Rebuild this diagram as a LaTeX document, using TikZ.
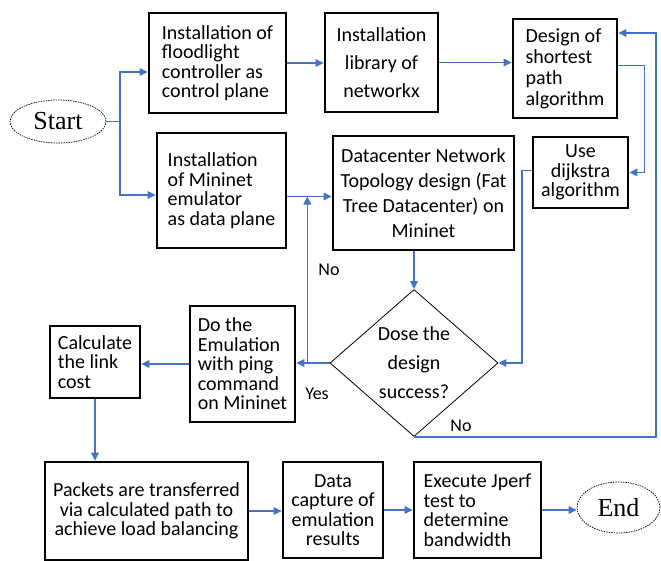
\documentclass[tikz,border=0pt]{standalone}
\usepackage{fontspec}
\setmainfont{Carlito}
\newfontfamily\termfont{Liberation Serif}
\usetikzlibrary{shapes.geometric, arrows.meta, calc}
\definecolor{flowblue}{RGB}{68,114,196}

\begin{document}
\begin{tikzpicture}[x=1pt, y=-1pt,
    procbox/.style = {draw, line width=2.6pt, inner sep=2pt, font=\fontsize{20}{19.5}\selectfont},
    decision/.style = {draw, diamond, line width=0.8pt, aspect=1.14, inner sep=0pt,
        minimum width=168, minimum height=147, align=center, font=\fontsize{20}{29}\selectfont},
    terminal/.style = {draw, ellipse, line width=0.7pt, dash pattern=on 1.5pt off 1pt,
        font=\termfont\fontsize{26}{26}\selectfont},
    flow/.style = {draw=flowblue, line width=1.6pt, -{Triangle[length=8pt,width=7.5pt]}},
    lbl/.style = {font=\fontsize{18}{18}\selectfont}]

    \useasboundingbox (0,0) rectangle (661,560);

    % terminals
    \node[terminal, minimum width=96, minimum height=43] (start) at (58,121.5) {Start};
    \node[terminal, minimum width=83, minimum height=51] (stop) at (618.5,507.5) {End};

    % top row
    \node[procbox, minimum width=137, minimum height=100, align=left] (floodlight) at (217.5,63)
        {Installation of\\floodlight\\controller as\\control plane};
    \node[procbox, minimum width=113, minimum height=99, align=center,
        font={\fontsize{20}{28}\selectfont}] (networkx) at (381.5,62.5)
        {Installation\\library of\\networkx};
    \node[procbox, minimum width=104, minimum height=99, align=left,
        font={\fontsize{20}{21}\selectfont}] (shortest) at (565,68.5)
        {Design of\\shortest\\path\\algorithm};

    % second row
    \node[procbox, minimum width=129, minimum height=115, align=left] (mininet) at (221.5,190.5)
        {Installation\\of Mininet\\emulator\\as data plane};
    \node[procbox, minimum width=181, minimum height=114, align=center,
        font={\fontsize{20}{25}\selectfont}] (fattree) at (423.5,193)
        {Datacenter Network\\Topology design (Fat\\Tree Datacenter) on\\Mininet};
    \node[procbox, minimum width=95, minimum height=71, align=center] (dijkstra) at (580.5,172.5)
        {Use\\dijkstra\\algorithm};

    % decision and emulation
    \node[decision] (success) at (414,363) {Dose the\\design\\success?};
    \node[procbox, minimum width=105, minimum height=116, align=left] (emulation) at (242.5,364)
        {Do the\\Emulation\\with ping\\command\\on Mininet};
    \node[procbox, minimum width=90, minimum height=72, align=left] (linkcost) at (95,362)
        {Calculate\\the link\\cost};

    % bottom row
    \node[procbox, minimum width=203, minimum height=98, align=center] (transfer) at (146.5,511)
        {Packets are transferred\\via calculated path to\\achieve load balancing};
    \node[procbox, minimum width=100, minimum height=96, align=center] (capture) at (333,510)
        {Data\\capture of\\emulation\\results};
    \node[procbox, minimum width=127, minimum height=96, align=left] (jperf) at (477.5,510)
        {Execute Jperf\\test to\\determine\\bandwidth};

    % connectors
    \coordinate (split) at (120,121.5);
    \draw[flow, -] (start.east) -- (split);
    \draw[flow] (split) |- ($(floodlight.west)+(0,9)$);
    \draw[flow] (split) |- ($(mininet.west)+(0,4.5)$);
    \draw[flow] (floodlight.east) -- (floodlight.east -| networkx.west);
    \draw[flow] (networkx.east) -- (networkx.east -| shortest.west);
    \draw[flow] ($(shortest.east)+(0,-3)$) -- ++(26,0) |- (dijkstra.east);
    \draw[flow] ($(dijkstra.west)+(0,-2)$) -- ++(-10,0) |- (success.east);

    \coordinate (mnout) at ($(mininet.east)+(0,6)$);
    \draw[flow] (mnout) -- (mnout -| fattree.west);
    \draw[flow] (success.north |- fattree.south) -- (success.north);

    \draw[flow] (success.west) -- (success.west -| emulation.east);
    \coordinate (noturn) at ($(success.west -| emulation.east)+(11,0)$);
    \draw[flow] (noturn) -- (noturn |- mnout);
    \node[lbl] (yeslbl) at (317,394) {Yes};
    \node[lbl] (nolbl) at (329,270) {No};

    \draw[flow] (success.south) -- ++(242,0) |- ($(shortest.east)+(0,-35.5)$);
    \node[lbl] (nolbl2) at (461,426) {No};

    \draw[flow] (emulation.west) -- (emulation.west -| linkcost.east);
    \draw[flow] (linkcost.south) -- (linkcost.south |- transfer.north);
    \draw[flow] (transfer.east) -- (transfer.east -| capture.west);
    \draw[flow] (capture.east) -- (capture.east -| jperf.west);
    \draw[flow] (jperf.east) -- (jperf.east -| stop.west);
\end{tikzpicture}
\end{document}
